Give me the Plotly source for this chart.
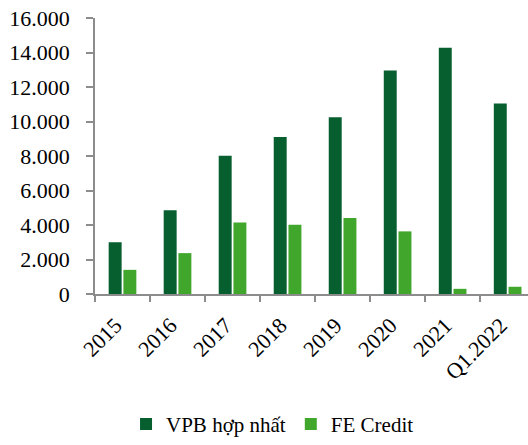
import plotly.graph_objects as go

categories = ["2015", "2016", "2017", "2018", "2019", "2020", "2021", "Q1.2022"]
vpb_hop_nhat = [3000, 4850, 8020, 9100, 10250, 12950, 14270, 11050]
fe_credit = [1400, 2370, 4150, 4020, 4400, 3630, 300, 420]
y_tick_vals = [0, 2000, 4000, 6000, 8000, 10000, 12000, 14000, 16000]
y_tick_text = ["0", "2.000", "4.000", "6.000", "8.000", "10.000", "12.000", "14.000", "16.000"]

FONT = "Liberation Serif, Times New Roman, serif"

fig = go.Figure()
fig.add_trace(go.Bar(name="VPB hợp nhất", x=categories, y=vpb_hop_nhat,
                     marker=dict(color="#075F30", line=dict(width=0))))
fig.add_trace(go.Bar(name="FE Credit", x=categories, y=fe_credit,
                     marker=dict(color="#41A62C", line=dict(width=0))))

fig.update_layout(
    width=528, height=445,
    margin=dict(l=95, r=0, t=18, b=145),
    paper_bgcolor="white", plot_bgcolor="white",
    barmode="group", bargap=0.465, bargroupgap=0.12,
    font=dict(family=FONT, size=22, color="black"),
    showlegend=True,
    legend=dict(orientation="h", x=0.41, xanchor="center", y=-0.472, yanchor="middle",
                font=dict(family=FONT, size=21, color="black"),
                itemwidth=30, traceorder="normal"),
)
fig.update_xaxes(
    type="category", range=[-0.5, 7.37], automargin=False,
    showline=True, linecolor="#8C8C8C", linewidth=1.5,
    ticks="outside", tickson="boundaries", ticklen=6, tickcolor="#8C8C8C", tickwidth=1.5,
    tickangle=-45, ticklabelstandoff=8, ticklabelshift=-7,
    showgrid=False, zeroline=False,
    tickfont=dict(family=FONT, size=22, color="black"),
)
fig.update_yaxes(
    range=[0, 16000], tickvals=y_tick_vals, ticktext=y_tick_text, automargin=False,
    showline=True, linecolor="#8C8C8C", linewidth=1.5,
    ticks="outside", ticklen=7, tickcolor="#8C8C8C", tickwidth=1.5,
    ticklabelstandoff=12,
    showgrid=False, zeroline=False,
    tickfont=dict(family=FONT, size=22, color="black"),
)

fig.write_html(
    "out.html",
    config={"displayModeBar": False},
    post_script="document.body.style.margin='0';document.body.style.overflow='hidden';",
)
